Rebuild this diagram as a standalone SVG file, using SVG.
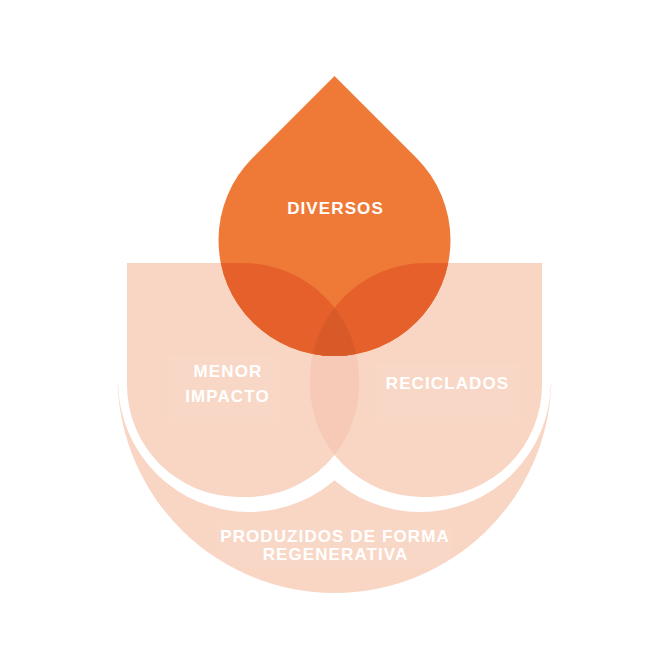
<svg xmlns="http://www.w3.org/2000/svg" xmlns:xlink="http://www.w3.org/1999/xlink" width="669" height="669" viewBox="0 0 669 669">
  <style>
    .lobe { fill: #F9D5C3; }
    .lens { fill: #F6CAB6; }
    .band { fill: #FFFFFF; }
    .drop { fill: #EF7A37; }
    .dropLobe { fill: #E5602A; }
    .dropLens { fill: #D95A29; }
    .tbox { fill: #FFFFFF; fill-opacity: 0.06; }
    .lbl { font-family: "Liberation Sans", Arial, sans-serif; font-weight: bold; font-size: 17px; letter-spacing: 1.1px; fill: #FFFFFF; text-anchor: middle; }
  </style>
  <defs>
    <path id="lobeL" d="M127,263 H243 A116,116 0 0 1 359,379 V385 A112,112 0 0 1 247,497 H239 A112,112 0 0 1 127,385 Z"/>
    <path id="lobeR" d="M542,263 H426 A116,116 0 0 0 310,379 V385 A112,112 0 0 0 422,497 H430 A112,112 0 0 0 542,385 Z"/>
    <path id="dropShape" d="M334.5,76 L416.5,158 A116,116 0 1 1 252.5,158 Z"/>
    <clipPath id="clipL"><use xlink:href="#lobeL"/></clipPath>
    <clipPath id="clipDrop"><use xlink:href="#dropShape"/></clipPath>
  </defs>
  <rect width="669" height="669" fill="#FFFFFF"/>

  <g id="node-regenerativa">
    <path class="lobe" d="M117.65,384 A217,217 0 0 0 551.35,384 Z"/>
    <rect class="tbox" x="217" y="522" width="236" height="46"/>
    <text class="lbl" x="335" y="541.7">PRODUZIDOS DE FORMA</text>
    <text class="lbl" x="335.5" y="560">REGENERATIVA</text>
  </g>

  <g id="separator-band">
    <circle class="band" cx="249" cy="381" r="131"/>
    <circle class="band" cx="420" cy="381" r="131"/>
  </g>

  <g id="node-menor-impacto">
    <use xlink:href="#lobeL" class="lobe"/>
    <rect class="tbox" x="168" y="355" width="110" height="68"/>
  </g>

  <g id="node-reciclados">
    <use xlink:href="#lobeR" class="lobe"/>
    <rect class="tbox" x="375" y="363" width="145" height="60"/>
  </g>

  <g id="overlap-lens" clip-path="url(#clipL)">
    <use xlink:href="#lobeR" class="lens"/>
  </g>

  <g id="node-diversos">
    <use xlink:href="#dropShape" class="drop"/>
    <g clip-path="url(#clipDrop)">
      <use xlink:href="#lobeL" class="dropLobe"/>
      <use xlink:href="#lobeR" class="dropLobe"/>
      <g clip-path="url(#clipL)">
        <use xlink:href="#lobeR" class="dropLens"/>
      </g>
    </g>
    <text class="lbl" x="335.5" y="214">DIVERSOS</text>
  </g>

  <g id="label-menor">
    <text class="lbl" x="228" y="376.7">MENOR</text>
    <text class="lbl" x="227.5" y="402.3">IMPACTO</text>
  </g>
  <g id="label-reciclados">
    <text class="lbl" x="447.5" y="389">RECICLADOS</text>
  </g>

  <g id="connectors"/>
</svg>
